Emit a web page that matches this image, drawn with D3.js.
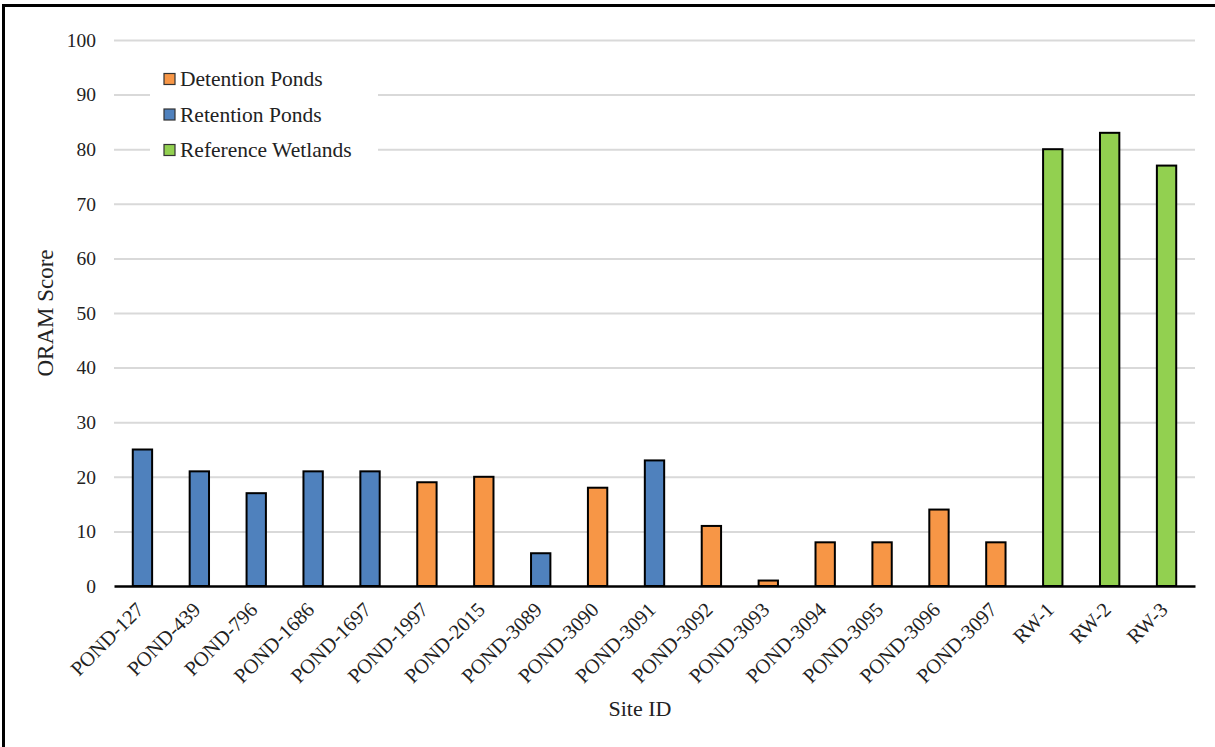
<!DOCTYPE html>
<html>
<head>
<meta charset="utf-8">
<script src="https://cdn.jsdelivr.net/npm/d3@7"></script>
<style>
  html, body { margin: 0; padding: 0; background: #fff; }
  svg { display: block; }
  text { font-family: "Liberation Serif", "Times New Roman", serif; fill: #222; }
</style>
</head>
<body>
<svg id="chart" width="1215" height="747"></svg>
<script>
// ORAM scores by site
const sites = ["POND-127", "POND-439", "POND-796", "POND-1686", "POND-1697", "POND-1997",
  "POND-2015", "POND-3089", "POND-3090", "POND-3091", "POND-3092", "POND-3093", "POND-3094",
  "POND-3095", "POND-3096", "POND-3097", "RW-1", "RW-2", "RW-3"];
const scores = [25, 21, 17, 21, 21, 19, 20, 6, 18, 23, 11, 1, 8, 8, 14, 8, 80, 83, 77];
const siteTypes = ["Retention Ponds", "Retention Ponds", "Retention Ponds", "Retention Ponds",
  "Retention Ponds", "Detention Ponds", "Detention Ponds", "Retention Ponds", "Detention Ponds",
  "Retention Ponds", "Detention Ponds", "Detention Ponds", "Detention Ponds", "Detention Ponds",
  "Detention Ponds", "Detention Ponds", "Reference Wetlands", "Reference Wetlands", "Reference Wetlands"];
const legendTypes = ["Detention Ponds", "Retention Ponds", "Reference Wetlands"];
const typeColors = ["#F79646", "#4F81BD", "#92D050"];
const yTicks = [0, 10, 20, 30, 40, 50, 60, 70, 80, 90, 100];

const svg = d3.select("#chart");
const W = 1215, H = 747;
const m = { left: 114, right: 20, top: 40, bottom: 161 };

const x = d3.scaleBand().domain(sites).range([m.left, W - m.right]).padding(0);
const y = d3.scaleLinear().domain([0, 100]).range([H - m.bottom, m.top]);
const color = d3.scaleOrdinal().domain(legendTypes).range(typeColors);

// Frame edges (top and left)
svg.append("rect").attr("x", 0).attr("y", 0).attr("width", W).attr("height", H).attr("fill", "#fff");
svg.append("line").attr("x1", 2).attr("x2", W).attr("y1", 5.5).attr("y2", 5.5)
  .attr("stroke", "#000").attr("stroke-width", 3);
svg.append("line").attr("x1", 3.5).attr("x2", 3.5).attr("y1", 4).attr("y2", H)
  .attr("stroke", "#000").attr("stroke-width", 3);

// Horizontal gridlines + y tick labels
const yAxis = d3.axisLeft(y).tickValues(yTicks).tickSize(-(W - m.right - m.left)).tickPadding(18);
const gy = svg.append("g").attr("transform", `translate(${m.left},0)`).call(yAxis);
gy.select(".domain").remove();
gy.selectAll(".tick line").attr("stroke", "#d9d9d9").attr("stroke-width", 2);
gy.selectAll(".tick text").attr("font-size", 19.5).attr("fill", "#222")
  .attr("font-family", "Liberation Serif, Times New Roman, serif");
gy.selectAll(".tick").filter(d => d === 0).select("line").remove();

// Bars
const barW = x.bandwidth() * 0.34;
svg.append("g").selectAll("rect").data(sites).join("rect")
  .attr("x", (d) => x(d) + x.bandwidth() / 2 - barW / 2)
  .attr("width", barW)
  .attr("y", (d, i) => y(scores[i]))
  .attr("height", (d, i) => y(0) - y(scores[i]))
  .attr("fill", (d, i) => color(siteTypes[i]))
  .attr("stroke", "#000").attr("stroke-width", 2);

// X axis
const xAxis = d3.axisBottom(x).tickSize(0).tickPadding(0);
const gx = svg.append("g").attr("transform", `translate(0,${y(0)})`).call(xAxis);
gx.select(".domain").attr("stroke", "#000").attr("stroke-width", 2.5);
gx.selectAll(".tick text")
  .attr("font-size", 20.5).attr("fill", "#222")
  .attr("font-family", "Liberation Serif, Times New Roman, serif")
  .attr("text-anchor", "end")
  .attr("dy", 0)
  .attr("transform", "translate(2.5,25) rotate(-45)");

// Axis titles
svg.append("text").attr("x", 640).attr("y", 716).attr("text-anchor", "middle")
  .attr("font-size", 22).text("Site ID");
svg.append("text").attr("transform", `translate(53,${(y(0) + y(100)) / 2}) rotate(-90)`)
  .attr("text-anchor", "middle").attr("font-size", 23).text("ORAM Score");

// Legend
const lg = svg.append("g");
lg.append("rect").attr("x", 150).attr("y", 58).attr("width", 228).attr("height", 108).attr("fill", "#fff");
legendTypes.forEach((t, i) => {
  const cy = 79 + i * 35.5;
  lg.append("rect").attr("x", 164).attr("y", cy - 5.5).attr("width", 11).attr("height", 11)
    .attr("fill", typeColors[i]).attr("stroke", "#333").attr("stroke-width", 1.2);
  lg.append("text").attr("x", 180).attr("y", cy + 7).attr("font-size", 21.5).text(t);
});
</script>
</body>
</html>
